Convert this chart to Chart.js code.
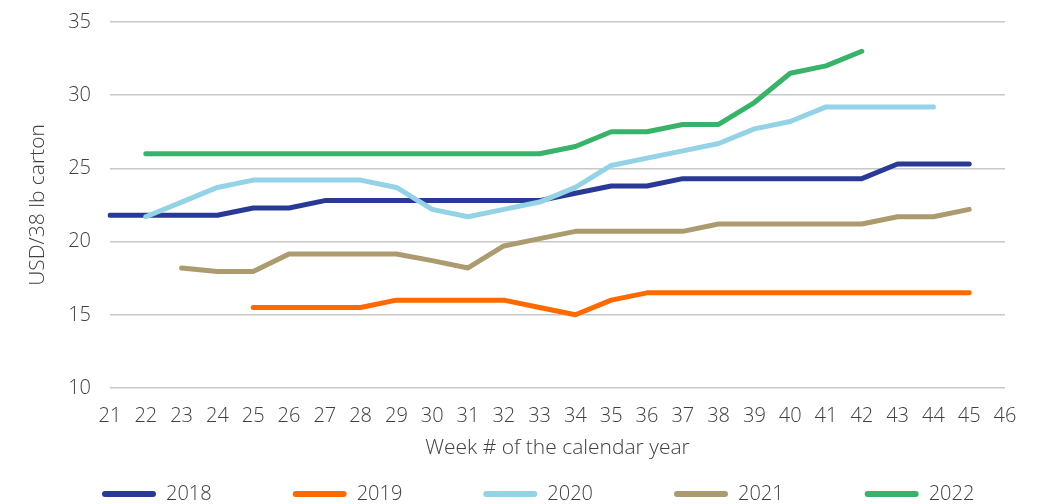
<!DOCTYPE html>
<html>
<head>
<meta charset="utf-8">
<title>Carton prices by week</title>
<script src="https://cdn.jsdelivr.net/npm/chart.js@4"></script>
<style>
  html, body { margin: 0; padding: 0; background: #fff; overflow: hidden; }
</style>
</head>
<body>
<canvas id="line-chart" width="1040" height="504"></canvas>
<script>
// week numbers on the x axis
var weeks = ['21','22','23','24','25','26','27','28','29','30','31','32','33',
             '34','35','36','37','38','39','40','41','42','43','44','45','46'];

// USD per 38 lb carton, one value per week (null = no data)
var y2018 = [21.8, 21.8, 21.8, 21.8, 22.3, 22.3, 22.8, 22.8, 22.8, 22.8, 22.8, 22.8, 22.8,
             23.3, 23.8, 23.8, 24.3, 24.3, 24.3, 24.3, 24.3, 24.3, 25.3, 25.3, 25.3, null];
var y2019 = [null, null, null, null, 15.5, 15.5, 15.5, 15.5, 16.0, 16.0, 16.0, 16.0, 15.5,
             15.0, 16.0, 16.5, 16.5, 16.5, 16.5, 16.5, 16.5, 16.5, 16.5, 16.5, 16.5, null];
var y2020 = [null, 21.7, 22.7, 23.7, 24.2, 24.2, 24.2, 24.2, 23.7, 22.2, 21.7, 22.2, 22.7,
             23.7, 25.2, 25.7, 26.2, 26.7, 27.7, 28.2, 29.2, 29.2, 29.2, 29.2, null, null];
var y2021 = [null, null, 18.2, 17.95, 17.95, 19.15, 19.15, 19.15, 19.15, 18.7, 18.2, 19.7, 20.2,
             20.7, 20.7, 20.7, 20.7, 21.2, 21.2, 21.2, 21.2, 21.2, 21.7, 21.7, 22.2, null];
var y2022 = [null, 26.0, 26.0, 26.0, 26.0, 26.0, 26.0, 26.0, 26.0, 26.0, 26.0, 26.0, 26.0,
             26.5, 27.5, 27.5, 28.0, 28.0, 29.5, 31.5, 32.0, 33.0, null, null, null, null];

var yTicks = [10, 15, 20, 25, 30, 35];

var txt = '#404040';
var fnt = { family: "'Open Sans', 'DejaVu Sans', sans-serif", size: 20, weight: 300 };
var fntTitle = { family: "'Open Sans', 'DejaVu Sans', sans-serif", size: 21, weight: 300 };

function serie(label, data, color, order) {
  return {
    label: label,
    data: data,
    borderColor: color,
    backgroundColor: color,
    borderWidth: 5,
    borderCapStyle: 'round',
    borderJoinStyle: 'round',
    pointRadius: 0,
    tension: 0,
    order: order
  };
}

// keep the legend one row, spaced wide, under the axis title
var legendPlace = {
  id: 'legendPlace',
  beforeLayout: function (chart) {
    var lg = chart.legend;
    if (lg && !lg.fitPatched) {
      var fit = lg.fit;
      lg.fit = function () { fit.call(this); this.height = 41; };
      lg.fitPatched = true;
    }
  },
  afterLayout: function (chart) {
    var lg = chart.legend;
    if (!lg) return;
    lg.left = 21;
    lg.right = 1100;
    lg.top = 403;
    lg.bottom = 504;
  }
};

var ctx = document.getElementById('line-chart');

var chartGraph = new Chart(ctx, {
  type: 'line',
  data: {
    labels: weeks,
    datasets: [
      serie('2018', y2018, '#293a96', 5),
      serie('2019', y2019, '#ff6a00', 4),
      serie('2020', y2020, '#93d3e5', 3),
      serie('2021', y2021, '#ab9b6e', 2),
      serie('2022', y2022, '#3ab36a', 1)
    ]
  },
  options: {
    responsive: false,
    animation: false,
    layout: { padding: { left: 21, right: 35, top: 22, bottom: 0 } },
    plugins: {
      tooltip: { enabled: false },
      legend: {
        position: 'bottom',
        align: 'start',
        labels: {
          font: fnt,
          color: txt,
          boxWidth: 54,
          boxHeight: 6,
          padding: 81,
          useBorderRadius: true,
          borderRadius: 3,
          sort: function (a, b) { return a.datasetIndex - b.datasetIndex; },
          generateLabels: function (chart) {
            var items = Chart.defaults.plugins.legend.labels.generateLabels(chart);
            items.forEach(function (it) {
              it.fillStyle = it.strokeStyle;
              it.lineWidth = 0;
            });
            return items;
          }
        }
      }
    },
    scales: {
      x: {
        offset: false,
        grid: { display: false, drawTicks: false },
        border: { display: false },
        ticks: { font: fnt, color: txt, padding: 16, autoSkip: false, maxRotation: 0 },
        title: {
          display: true,
          text: 'Week # of the calendar year',
          font: fntTitle,
          color: txt,
          padding: { top: 0, bottom: 2 }
        },
        afterFit: function (s) { s.height = 75; }
      },
      y: {
        min: 10,
        max: 35,
        afterBuildTicks: function (s) {
          s.ticks = yTicks.map(function (v) { return { value: v }; });
        },
        grid: { color: '#c8c8c8', lineWidth: 1.5, drawTicks: false },
        border: { display: false },
        ticks: { font: fnt, color: txt, padding: 19 },
        title: {
          display: true,
          text: 'USD/38 lb carton',
          font: fntTitle,
          color: txt,
          padding: { top: 4, bottom: 0 }
        },
        afterFit: function (s) {
          s.width = 89;
          s.paddingTop = 0;
          s.paddingBottom = 0;
        }
      }
    }
  },
  plugins: [legendPlace]
});
</script>
</body>
</html>
